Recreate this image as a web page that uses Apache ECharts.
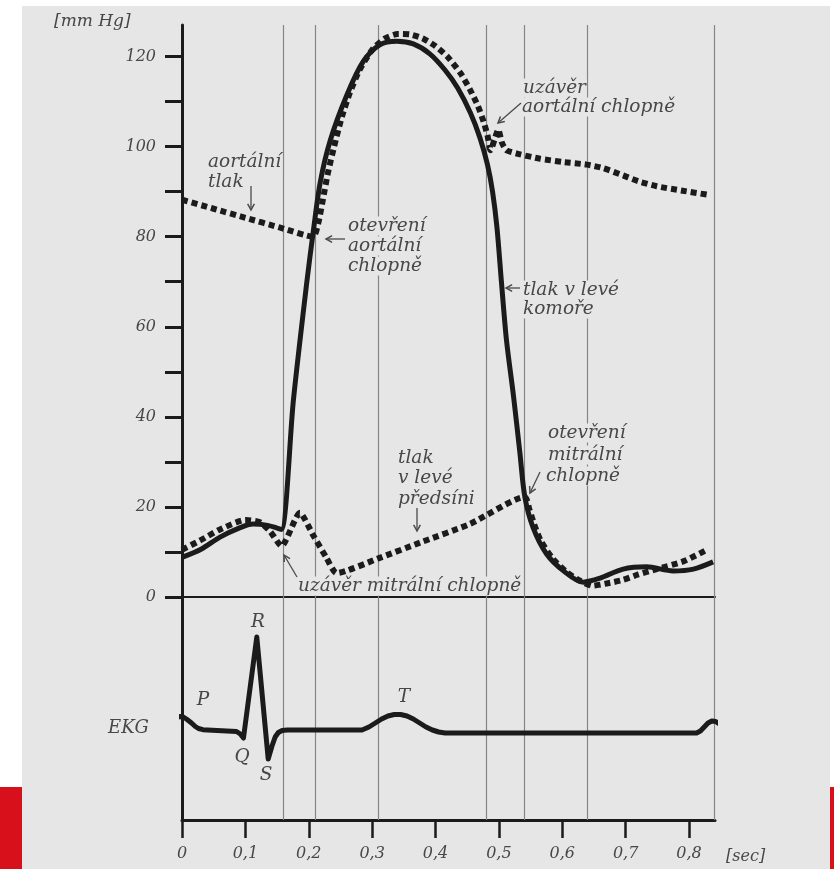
<!DOCTYPE html>
<html>
<head>
<meta charset="utf-8">
<script src="https://cdn.jsdelivr.net/npm/echarts@6/dist/echarts.min.js"></script>
<style>
html,body{margin:0;padding:0;background:#ffffff;}
#chart{width:834px;height:869px;}
</style>
</head>
<body>
<div id="chart"></div>
<script>
// ---- data (time in s, pressure in mm Hg) ----
const lvTime = [0.0, 0.03, 0.06, 0.09, 0.112, 0.135, 0.150, 0.157, 0.176, 0.197, 0.207, 0.218, 0.234, 0.26, 0.286, 0.312, 0.339, 0.365, 0.391, 0.415, 0.435, 0.455, 0.47, 0.482, 0.49, 0.497, 0.504, 0.512, 0.523, 0.533, 0.541, 0.554, 0.575, 0.602, 0.633, 0.66, 0.696, 0.733, 0.775, 0.807, 0.838];
const lvPressure = [8.8, 10.6, 13.3, 15.3, 16.2, 15.9, 15.3, 15.0, 44, 70, 81, 92, 101.4, 111.4, 118.9, 122.6, 123.4, 122.8, 120.6, 117, 113, 107.5, 102, 96, 90, 82, 70, 57, 44.7, 32.2, 22.2, 15.4, 9.6, 5.8, 3.3, 4.2, 6.2, 6.7, 5.8, 6.2, 7.8];

const aoTime = [0.0, 0.05, 0.10, 0.155, 0.207, 0.215, 0.222, 0.23, 0.24, 0.252, 0.265, 0.28, 0.30, 0.32, 0.34, 0.36, 0.38, 0.40, 0.42, 0.44, 0.455, 0.467, 0.476, 0.482, 0.487, 0.493, 0.499, 0.505, 0.512, 0.53, 0.565, 0.6, 0.639, 0.665, 0.696, 0.72, 0.749, 0.79, 0.83];
const aoPressure = [88.2, 86.2, 84.2, 82.0, 80.0, 83, 88, 94, 100, 106.5, 112, 117, 121.5, 124, 125, 124.9, 124, 122.3, 119.8, 116.2, 112.5, 109, 105.5, 102.5, 99.2, 101.5, 103.8, 100.8, 99.2, 98.4, 97.3, 96.6, 96.0, 95.2, 93.6, 92.3, 91.2, 90.2, 89.3];

const laTime = [0.0, 0.028, 0.06, 0.10, 0.123, 0.139, 0.157, 0.186, 0.207, 0.228, 0.244, 0.312, 0.376, 0.454, 0.541, 0.548, 0.556, 0.566, 0.585, 0.607, 0.628, 0.648, 0.67, 0.696, 0.72, 0.749, 0.791, 0.83];
const laPressure = [10.5, 12.5, 15.0, 17.1, 16.6, 14.6, 11.3, 18.7, 13.7, 8.7, 5.3, 8.7, 12.1, 16.2, 22.2, 19.5, 16.0, 12.5, 8.5, 5.5, 3.6, 2.5, 3.0, 3.8, 5.0, 6.2, 7.9, 10.6];

const ekgTime = [-0.019, -0.014, -0.008, -0.003, 0.002, 0.008, 0.015, 0.021, 0.026, 0.033, 0.04, 0.086, 0.092, 0.097, 0.118, 0.136, 0.142, 0.147, 0.152, 0.158, 0.166, 0.18, 0.284, 0.295, 0.305, 0.315, 0.325, 0.335, 0.345, 0.355, 0.365, 0.375, 0.385, 0.395, 0.405, 0.415, 0.812, 0.818, 0.824, 0.83, 0.836, 0.842, 0.848, 0.853, 0.858];
const ekgVoltage = [0.03, 0.09, 0.125, 0.135, 0.13, 0.105, 0.07, 0.035, 0.015, 0.003, 0.0, -0.015, -0.04, -0.08, 0.93, -0.29, -0.16, -0.07, -0.025, -0.005, 0.0, 0.0, 0.0, 0.03, 0.07, 0.11, 0.14, 0.155, 0.155, 0.14, 0.11, 0.07, 0.03, 0.0, -0.02, -0.03, -0.03, -0.01, 0.03, 0.07, 0.09, 0.085, 0.06, 0.025, 0.0];

const eventTimes = [0.158, 0.2146, 0.314, 0.478, 0.54, 0.639, 0.841];
const timeTicks = [0, 0.1, 0.2, 0.3, 0.4, 0.5, 0.6, 0.7, 0.8];
const pressureTicks = [0, 10, 20, 30, 40, 50, 60, 70, 80, 90, 100, 110, 120];
const pressureLabels = [0, 20, 40, 60, 80, 100, 120];

// ---- chart ----
const zip = (a, b) => a.map((t, i) => [t, b[i]]);
const INK = '#1b1b1b', TXT = '#474747', BG = '#e6e6e6', THIN = '#858585';
const FONT = 'italic 18.5px "DejaVu Serif", serif';
const TMAX = 0.841;

function txt(text, x, y, opt) {
  opt = opt || {};
  return {
    type: 'text', z: 2,
    style: {
      text: text, x: x, y: y, font: opt.font || FONT, fill: TXT,
      align: opt.align || 'left', verticalAlign: 'middle',
      backgroundColor: opt.bg === false ? null : BG, padding: [0, 1]
    }
  };
}
function arrow(x1, y1, x2, y2) {
  const a = Math.atan2(y2 - y1, x2 - x1), L = 7, w = 0.5;
  return [
    { type: 'line', z: 2, shape: { x1: x1, y1: y1, x2: x2, y2: y2 }, style: { stroke: '#4a4a4a', lineWidth: 1.3 } },
    { type: 'polyline', z: 2, shape: { points: [
        [x2 - L * Math.cos(a - w), y2 - L * Math.sin(a - w)], [x2, y2],
        [x2 - L * Math.cos(a + w), y2 - L * Math.sin(a + w)]] },
      style: { stroke: '#4a4a4a', lineWidth: 1.5, fill: null } }
  ];
}

const graphics = [
  { type: 'rect', z: -10, shape: { x: 22, y: 6, width: 808, height: 863 }, style: { fill: BG } },
  { type: 'rect', z: -10, shape: { x: 0, y: 787, width: 22, height: 82 }, style: { fill: '#d7101c' } },
  { type: 'rect', z: -10, shape: { x: 830, y: 787, width: 4, height: 82 }, style: { fill: '#d7101c' } },
  txt('[mm Hg]', 53, 22, { bg: false, font: 'italic 17px "DejaVu Serif", serif' }),
  txt('aortální', 207, 162), txt('tlak', 207, 182),
  txt('otevření', 347, 226), txt('aortální', 347, 246), txt('chlopně', 347, 266),
  txt('uzávěr', 522, 88), txt('aortální chlopně', 521, 107),
  txt('tlak v levé', 522, 290), txt('komoře', 522, 309),
  txt('tlak', 397, 458), txt('v levé', 397, 478), txt('předsíni', 397, 499),
  txt('otevření', 547, 433), txt('mitrální', 547, 455), txt('chlopně', 545, 476),
  txt('uzávěr mitrální chlopně', 297, 586),
  txt('EKG', 107, 728, { bg: false, font: 'italic 18px "DejaVu Serif", serif' }),
  txt('P', 203, 700, { align: 'center', bg: false }),
  txt('R', 258, 622, { align: 'center', bg: false }),
  txt('Q', 242, 757, { align: 'center', bg: false }),
  txt('S', 266, 775, { align: 'center', bg: false }),
  txt('T', 404, 697, { align: 'center', bg: false }),
  txt('[sec]', 725, 857, { bg: false, font: 'italic 16px "DejaVu Serif", serif' })
].concat(
  arrow(251, 186, 251, 210),
  arrow(345, 239, 326, 239),
  arrow(521, 103, 498, 123),
  arrow(520, 288, 506, 288),
  arrow(417, 508, 417, 531),
  arrow(540, 472, 530, 493),
  arrow(297, 577, 284, 555)
);

const option = {
  animation: false,
  backgroundColor: '#ffffff',
  grid: [
    { left: 182, right: 119, top: 25, height: 572 },
    { left: 182, right: 119, top: 597, height: 223 },
    { left: 182, right: 119, top: 25, height: 795 }
  ],
  xAxis: [
    { gridIndex: 0, type: 'value', min: 0, max: TMAX,
      axisLine: { show: true, onZero: false, lineStyle: { color: INK, width: 2 } },
      axisTick: { show: false }, axisLabel: { show: false }, splitLine: { show: false } },
    { gridIndex: 1, type: 'value', min: 0, max: TMAX, position: 'bottom',
      axisLine: { show: true, onZero: false, lineStyle: { color: INK, width: 3 } },
      axisTick: { show: true, customValues: timeTicks, length: 18, lineStyle: { color: INK, width: 2.5 } },
      axisLabel: { show: true, customValues: timeTicks, margin: 26,
        formatter: v => v === 0 ? '0' : v.toFixed(1).replace('.', ','),
        fontFamily: '"DejaVu Serif", serif', fontStyle: 'italic', fontSize: 16, color: TXT },
      splitLine: { show: false } },
    { gridIndex: 2, type: 'value', min: 0, max: TMAX, show: false }
  ],
  yAxis: [
    { gridIndex: 0, type: 'value', min: 0, max: 127,
      axisLine: { show: true, onZero: false, lineStyle: { color: INK, width: 3 } },
      axisTick: { show: true, customValues: pressureTicks, length: 17, lineStyle: { color: INK, width: 3 } },
      axisLabel: { show: true, customValues: pressureLabels, margin: 26,
        fontFamily: '"DejaVu Serif", serif', fontStyle: 'italic', fontSize: 16, color: TXT },
      splitLine: { show: false } },
    { gridIndex: 1, type: 'value', min: -0.9, max: 1.33,
      axisLine: { show: true, onZero: false, lineStyle: { color: INK, width: 3 } },
      axisTick: { show: false }, axisLabel: { show: false }, splitLine: { show: false } },
    { gridIndex: 2, type: 'value', min: 0, max: 1, show: false }
  ],
  graphic: { elements: graphics },
  series: [
    { name: 'events', type: 'line', xAxisIndex: 2, yAxisIndex: 2, data: [], z: 1, silent: true,
      markLine: { z: 1, silent: true, symbol: 'none', label: { show: false },
        lineStyle: { color: THIN, width: 1.2, type: 'solid' },
        data: eventTimes.map(t => ({ xAxis: t })) } },
    { name: 'tlak v levé komoře', type: 'line', xAxisIndex: 0, yAxisIndex: 0, z: 3,
      data: zip(lvTime, lvPressure), showSymbol: false, smooth: 0.3,
      lineStyle: { color: INK, width: 5 } },
    { name: 'aortální tlak', type: 'line', xAxisIndex: 0, yAxisIndex: 0, z: 4,
      data: zip(aoTime, aoPressure), showSymbol: false, smooth: 0.2,
      lineStyle: { color: INK, width: 6, type: [6, 4], cap: 'butt', join: 'miter' } },
    { name: 'tlak v levé předsíni', type: 'line', xAxisIndex: 0, yAxisIndex: 0, z: 4,
      data: zip(laTime, laPressure), showSymbol: false, smooth: 0.2,
      lineStyle: { color: INK, width: 6, type: [6, 4], cap: 'butt', join: 'miter' } },
    { name: 'EKG', type: 'line', xAxisIndex: 1, yAxisIndex: 1, z: 3, clip: false,
      data: zip(ekgTime, ekgVoltage), showSymbol: false, smooth: false,
      lineStyle: { color: INK, width: 5, join: 'round', cap: 'round' } }
  ]
};
const chart = echarts.init(document.getElementById('chart'));
chart.setOption(option);
</script>
</body>
</html>
